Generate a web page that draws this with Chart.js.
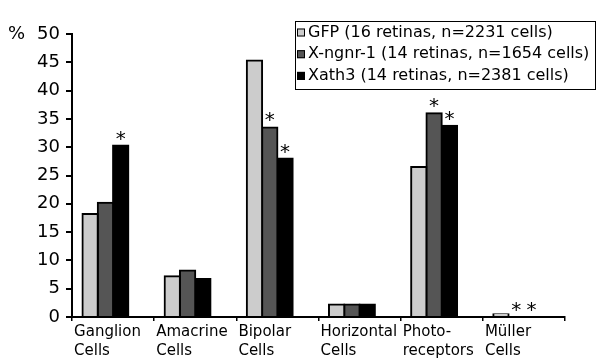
<!DOCTYPE html>
<html>
<head>
<meta charset="utf-8">
<script src="https://cdn.jsdelivr.net/npm/chart.js@4.4.1/dist/chart.umd.min.js"></script>
<style>
  html, body { margin: 0; padding: 0; background: #fff; }
  #wrap { width: 602px; height: 364px; position: relative; }
</style>
</head>
<body>
<div id="wrap"><canvas id="myChart" width="602" height="364"></canvas></div>
<script>
// categories (two-line labels)
const categories = [
    ['Ganglion', 'Cells'],
    ['Amacrine', 'Cells'],
    ['Bipolar', 'Cells'],
    ['Horizontal', 'Cells'],
    ['Photo-', 'receptors'],
    ['Müller', 'Cells']
];

// percent of labelled cells
const gfpValues   = [18.2, 7.2, 45.3, 2.2, 26.5, 0.5];
const ngnrValues  = [20.2, 8.2, 33.5, 2.2, 36.0, 0];
const xath3Values = [30.3, 6.7, 28.0, 2.2, 33.8, 0];

// significance stars (1 = star above the bar)
const gfpStars   = [0, 0, 0, 0, 0, 0];
const ngnrStars  = [0, 0, 1, 0, 1, 1];
const xath3Stars = [1, 0, 1, 0, 1, 1];

const yTicks = [0, 5, 10, 15, 20, 25, 30, 35, 40, 45, 50];

const seriesLabels = [
    'GFP (16 retinas, n=2231 cells)',
    'X-ngnr-1 (14 retinas, n=1654 cells)',
    'Xath3 (14 retinas, n=2381 cells)'
];

const FONT = 'DejaVu Sans';

// stars over bars
const starPlugin = {
    id: 'stars',
    afterDatasetsDraw(chart) {
        const ctx = chart.ctx;
        const stars = [gfpStars, ngnrStars, xath3Stars];
        ctx.save();
        ctx.fillStyle = '#000';
        ctx.font = '20px "' + FONT + '"';
        ctx.textAlign = 'center';
        ctx.textBaseline = 'alphabetic';
        stars.forEach(function(s, i) {
            const meta = chart.getDatasetMeta(i);
            s.forEach(function(v, j) {
                if (!v) return;
                const bar = meta.data[j];
                ctx.fillText('*', bar.x, bar.y - 1);
            });
        });
        ctx.restore();
    }
};

// boxed legend top right + "%" unit
const legendPlugin = {
    id: 'boxLegend',
    afterDraw(chart) {
        const ctx = chart.ctx;
        const yScale = chart.scales.y;
        ctx.save();
        ctx.fillStyle = '#000';
        ctx.font = '18px "' + FONT + '"';
        ctx.textAlign = 'left';
        ctx.textBaseline = 'middle';
        ctx.fillText('%', 8, yScale.getPixelForValue(50));

        const bx = 295, by = 21, bw = 300, bh = 68;
        ctx.fillStyle = '#fff';
        ctx.fillRect(bx, by, bw, bh);
        ctx.strokeStyle = '#000';
        ctx.lineWidth = 1;
        ctx.strokeRect(bx + 0.5, by + 0.5, bw, bh);

        ctx.font = '16px "' + FONT + '"';
        const ds = chart.data.datasets;
        for (let i = 0; i < 3; i++) {
            const cy = 32.5 + i * 21.7;
            ctx.fillStyle = ds[i].backgroundColor;
            ctx.fillRect(297, cy - 4, 8, 8);
            ctx.strokeStyle = '#000';
            ctx.lineWidth = 1;
            ctx.strokeRect(297.5, cy - 3.5, 7, 7);
            ctx.fillStyle = '#000';
            ctx.fillText(ds[i].label, 308, cy);
        }
        ctx.restore();
    }
};

const ctx = document.getElementById('myChart').getContext('2d');
new Chart(ctx, {
    type: 'bar',
    data: {
        labels: categories,
        datasets: [{
            label: seriesLabels[0],
            data: gfpValues,
            backgroundColor: '#cccccc'
        }, {
            label: seriesLabels[1],
            data: ngnrValues,
            backgroundColor: '#555555'
        }, {
            label: seriesLabels[2],
            data: xath3Values,
            backgroundColor: '#000000'
        }, {
            // empty slot so the group sits left of the category centre
            label: '',
            data: [null, null, null, null, null, null],
            backgroundColor: 'rgba(0,0,0,0)'
        }]
    },
    options: {
        responsive: false,
        animation: false,
        devicePixelRatio: 1,
        layout: { padding: { top: 34, right: 37, left: 0, bottom: 0 } },
        datasets: {
            bar: {
                categoryPercentage: 0.745,
                barPercentage: 1.0,
                borderColor: '#000',
                borderWidth: 2,
                inflateAmount: 1
            }
        },
        plugins: {
            legend: { display: false },
            tooltip: { enabled: false }
        },
        scales: {
            x: {
                afterFit: function(scale) { scale.height = 47; },
                border: { display: true, color: '#000', width: 2 },
                grid: {
                    offset: true,
                    drawOnChartArea: false,
                    drawTicks: true,
                    tickLength: 4,
                    color: '#000',
                    lineWidth: 1.5
                },
                ticks: {
                    color: '#000',
                    font: { family: FONT, size: 15, lineHeight: 1.3 },
                    align: 'start',
                    labelOffset: -39,
                    padding: 1,
                    maxRotation: 0,
                    autoSkip: false
                }
            },
            y: {
                min: 0,
                max: 50,
                afterFit: function(scale) { scale.width = 72; },
                afterBuildTicks: function(scale) {
                    scale.ticks = yTicks.map(function(v) { return { value: v }; });
                },
                border: { display: true, color: '#000', width: 2 },
                grid: {
                    drawOnChartArea: false,
                    drawTicks: true,
                    tickLength: 6,
                    color: '#000',
                    lineWidth: 2
                },
                ticks: {
                    color: '#000',
                    font: { family: FONT, size: 18 },
                    padding: 6
                }
            }
        }
    },
    plugins: [starPlugin, legendPlugin]
});
</script>
</body>
</html>
